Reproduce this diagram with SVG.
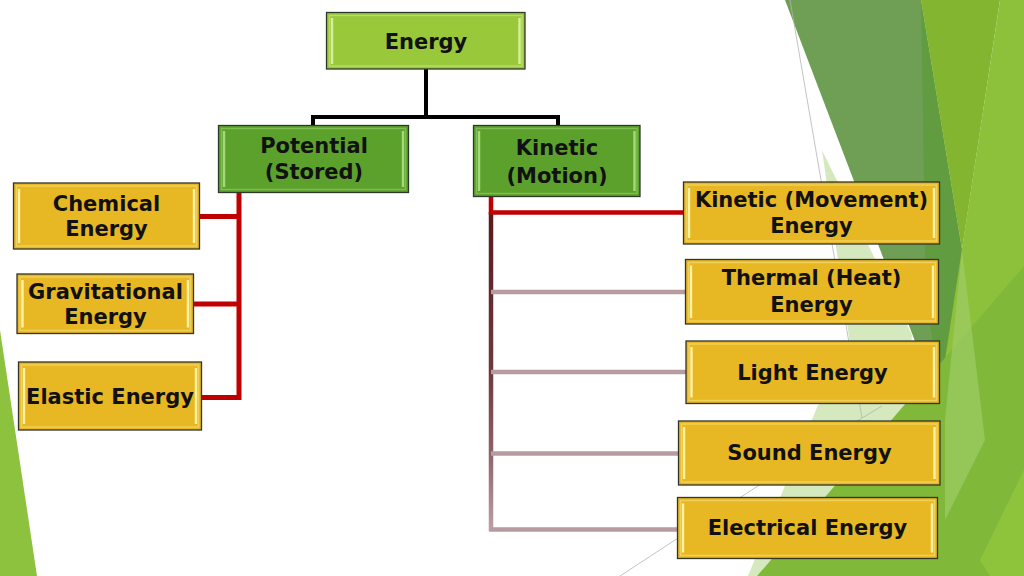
<svg xmlns="http://www.w3.org/2000/svg" width="1024" height="576" viewBox="0 0 1024 576">
<defs>
<style>
.yb{fill:#E7B824;stroke:#33332A;stroke-width:1.3}
.yi{fill:none;stroke:#F2D15A;stroke-width:1.4}
.yh{stroke:#FFF3A2;stroke-width:2.4}
.g1{fill:#99C83A;stroke:#2E3A28;stroke-width:1.3}
.g1i{fill:none;stroke:#B9DC6E;stroke-width:1.4}
.g1h{stroke:#D6EF9A;stroke-width:2.4}
.g2{fill:#5DA12D;stroke:#2E3A28;stroke-width:1.3}
.g2i{fill:none;stroke:#7FBD52;stroke-width:1.4}
.g2h{stroke:#A5D97C;stroke-width:2.4}
text{font-family:"DejaVu Sans",sans-serif;font-weight:bold;font-size:21px;fill:#111;text-anchor:middle}
.thin{stroke:#B4B4B4;stroke-width:0.8;fill:none}
</style>
<linearGradient id="vg" gradientUnits="userSpaceOnUse" x1="0" y1="212" x2="0" y2="531">
<stop offset="0" stop-color="#5A1A1C"/>
<stop offset="0.5" stop-color="#70383B"/>
<stop offset="0.75" stop-color="#8E6166"/>
<stop offset="1" stop-color="#BBA1A6"/>
</linearGradient>
</defs>
<rect width="1024" height="576" fill="#FFFFFF"/>
<g id="background">
<polygon points="0,330 37,576 0,576" fill="#8DC23F"/>
<polygon points="822,150 912,335 905,405 757,576 748,576 818,405 856,385" fill="#D5E9BF"/>
<polygon points="785,0 921,0 962,250 945,420" fill="#6E9F55"/>
<polygon points="921,0 962,250 945,420 926,300" fill="#619C40"/>
<polygon points="921,0 1000,0 962,250" fill="#83B531"/>
<polygon points="1000,0 1024,0 1024,576 912,576" fill="#8DC13C"/>
<polygon points="757,576 900,410 1024,266 1024,576" fill="#80B93A"/>
<polygon points="962,250 985,440 945,520 945,420" fill="#A3CF6C" opacity="0.6"/>
<polygon points="980,560 1024,470 1024,576 990,576" fill="#8EC33C"/>
<path class="thin" d="M790,0 L862,418 L620,576 M862,418 L882,406"/>
</g>
<g id="connectors" fill="none">
<path d="M426,69 V117 M313,126 V117 H558 V126" stroke="#000" stroke-width="4"/>
<path d="M239,192 V400 M199,216.5 H241 M193,304 H241 M201,397.5 H241" stroke="#C00000" stroke-width="5"/>
<path d="M491,212 V531" stroke="url(#vg)" stroke-width="4.5"/>
<path d="M491,292 H685 M491,372 H686 M491,453.5 H679 M489,529.5 H678" stroke="#B69CA1" stroke-width="4.5"/>
<path d="M491,197 V212.5 H684" stroke="#C00000" stroke-width="4.5"/>
</g>
<g id="energy">
<rect class="g1" x="326.5" y="12.5" width="198.5" height="56.5"/>
<rect class="g1i" x="329.5" y="15.5" width="192.5" height="50.5"/>
<path class="g1h" d="M332,18 V64 M519.5,18 V64"/>
<text x="426" y="48.5">Energy</text>
</g>
<g id="potential">
<rect class="g2" x="218.5" y="125.5" width="190" height="67"/>
<rect class="g2i" x="221.5" y="128.5" width="184" height="61"/>
<path class="g2h" d="M224,131 V187 M403,131 V187"/>
<text x="314" y="152.5">Potential</text>
<text x="314" y="178.5">(Stored)</text>
</g>
<g id="kinetic">
<rect class="g2" x="473.5" y="125.5" width="166.5" height="71"/>
<rect class="g2i" x="476.5" y="128.5" width="160.5" height="65"/>
<path class="g2h" d="M479,131 V191 M634.5,131 V191"/>
<text x="557" y="155">Kinetic</text>
<text x="557" y="183">(Motion)</text>
</g>
<g id="chemical">
<rect class="yb" x="13.5" y="183" width="186" height="66"/>
<rect class="yi" x="16.5" y="186" width="180" height="60"/>
<path class="yh" d="M19,189 V243 M194,189 V243"/>
<text x="106.5" y="210.5">Chemical</text>
<text x="106.5" y="236">Energy</text>
</g>
<g id="gravitational">
<rect class="yb" x="17" y="274" width="176.5" height="59.5"/>
<rect class="yi" x="20" y="277" width="170.5" height="53.5"/>
<path class="yh" d="M22.5,280 V327.5 M188,280 V327.5"/>
<text x="105.5" y="298.5">Gravitational</text>
<text x="105.5" y="324">Energy</text>
</g>
<g id="elastic">
<rect class="yb" x="18.5" y="362" width="183" height="68"/>
<rect class="yi" x="21.5" y="365" width="177" height="62"/>
<path class="yh" d="M24,368 V424 M196,368 V424"/>
<text x="110" y="403.5">Elastic Energy</text>
</g>
<g id="kinetic-movement">
<rect class="yb" x="683.5" y="182" width="256" height="62"/>
<rect class="yi" x="686.5" y="185" width="250" height="56"/>
<path class="yh" d="M689,188 V238 M934,188 V238"/>
<text x="811.5" y="206.5">Kinetic (Movement)</text>
<text x="811.5" y="233">Energy</text>
</g>
<g id="thermal">
<rect class="yb" x="685.5" y="259.5" width="253" height="64.5"/>
<rect class="yi" x="688.5" y="262.5" width="247" height="58.5"/>
<path class="yh" d="M691,265.5 V318 M933,265.5 V318"/>
<text x="811.5" y="285">Thermal (Heat)</text>
<text x="811.5" y="311.5">Energy</text>
</g>
<g id="light">
<rect class="yb" x="686" y="341" width="253.5" height="62.5"/>
<rect class="yi" x="689" y="344" width="247.5" height="56.5"/>
<path class="yh" d="M691.5,347 V397.5 M934,347 V397.5"/>
<text x="812.5" y="379.5">Light Energy</text>
</g>
<g id="sound">
<rect class="yb" x="678.5" y="421" width="261.5" height="64"/>
<rect class="yi" x="681.5" y="424" width="255.5" height="58"/>
<path class="yh" d="M684,427 V479 M934.5,427 V479"/>
<text x="809.5" y="460">Sound Energy</text>
</g>
<g id="electrical">
<rect class="yb" x="677.5" y="497.5" width="260" height="61"/>
<rect class="yi" x="680.5" y="500.5" width="254" height="55"/>
<path class="yh" d="M683,503.5 V552.5 M932,503.5 V552.5"/>
<text x="807.5" y="535">Electrical Energy</text>
</g>
</svg>
